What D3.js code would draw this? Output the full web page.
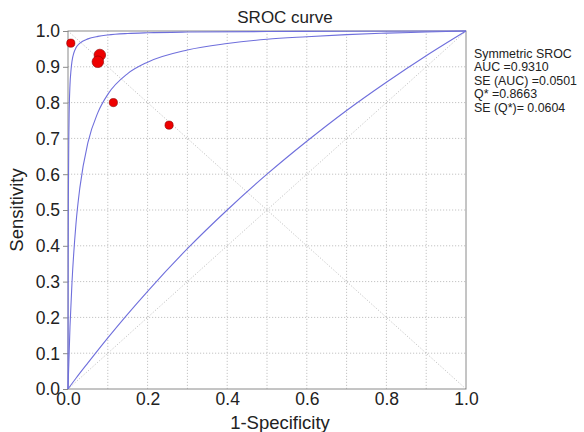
<!DOCTYPE html>
<html>
<head>
<meta charset="utf-8">
<script src="https://cdn.jsdelivr.net/npm/d3@7"></script>
<style>
  body { margin: 0; background: #fff; }
  text { font-family: "Liberation Sans", Arial, sans-serif; fill: #222; }
</style>
</head>
<body>
<div id="chart"></div>
<script>
// studies: 1-specificity, sensitivity, size (weight)
var studyFpr = [0.007, 0.080, 0.075, 0.114, 0.254];
var studyTpr = [0.966, 0.933, 0.914, 0.800, 0.737];
var studySize = [1, 2, 2, 1, 1];

// SROC curve (middle)
var midX = [0, 0.005, 0.01, 0.02, 0.03, 0.05, 0.075, 0.1, 0.15, 0.2, 0.3, 0.4, 0.5, 0.6, 0.7, 0.8, 0.9, 1.0];
var midY = [0, 0.174, 0.297, 0.461, 0.564, 0.688, 0.772, 0.823, 0.881, 0.913, 0.947, 0.965, 0.977, 0.984, 0.990, 0.994, 0.997, 1.0];

// upper curve
var upX = [0, 0.0005, 0.001, 0.002, 0.003, 0.005, 0.0075, 0.01, 0.015, 0.02, 0.03, 0.05, 0.075, 0.1, 0.15, 0.2, 0.3, 0.5, 0.7, 1.0];
var upY = [0, 0.368, 0.538, 0.700, 0.778, 0.850, 0.890, 0.915, 0.940, 0.953, 0.966, 0.978, 0.985, 0.989, 0.993, 0.995, 0.997, 0.9985, 0.9993, 1.0];

// lower curve
var lowX = [0, 0.02, 0.05, 0.1, 0.2, 0.3, 0.4, 0.5, 0.6, 0.7, 0.8, 0.9, 1.0];
var lowY = [0, 0.030, 0.073, 0.143, 0.273, 0.392, 0.500, 0.600, 0.692, 0.778, 0.857, 0.931, 1.0];

var ticks = [0, 0.1, 0.2, 0.3, 0.4, 0.5, 0.6, 0.7, 0.8, 0.9, 1.0];
var xTicks = [0, 0.2, 0.4, 0.6, 0.8, 1.0];

var legendLines = ["Symmetric SROC", "AUC =0.9310", "SE (AUC) =0.0501", "Q* =0.8663", "SE (Q*)= 0.0604"];

var W = 584, H = 432;
var margin = {left: 68, right: 118, top: 31, bottom: 43};

var svg = d3.select("#chart").append("svg")
    .attr("width", W)
    .attr("height", H);

var x = d3.scaleLinear().domain([0, 1]).range([margin.left, W - margin.right]);
var y = d3.scaleLinear().domain([0, 1]).range([H - margin.bottom, margin.top]);

// grid
var grid = svg.append("g").attr("stroke", "#c4c4c4").attr("stroke-dasharray", "1.2,1.8").attr("stroke-width", 1);
grid.selectAll(".gx").data(ticks.slice(1, -1)).enter().append("line")
    .attr("x1", function(d){ return x(d); }).attr("x2", function(d){ return x(d); })
    .attr("y1", y(0)).attr("y2", y(1));
grid.selectAll(".gy").data(ticks.slice(1, -1)).enter().append("line")
    .attr("y1", function(d){ return y(d); }).attr("y2", function(d){ return y(d); })
    .attr("x1", x(0)).attr("x2", x(1));

// diagonals
grid.append("line").attr("x1", x(0)).attr("y1", y(0)).attr("x2", x(1)).attr("y2", y(1));
grid.append("line").attr("x1", x(0)).attr("y1", y(1)).attr("x2", x(1)).attr("y2", y(0));

// frame
svg.append("rect")
    .attr("x", x(0)).attr("y", y(1))
    .attr("width", x(1) - x(0)).attr("height", y(0) - y(1))
    .attr("fill", "none").attr("stroke", "#8a8a8a");

// axes
var yAxis = d3.axisLeft(y).tickValues(ticks).tickSize(5).tickFormat(d3.format(".1f"));
var gy = svg.append("g").attr("transform", "translate(" + x(0) + ",0)").call(yAxis);
gy.select(".domain").remove();
gy.selectAll("line").attr("stroke", "#8a8a8a");
gy.selectAll("text").style("font-size", "17.5px").attr("x", -8).attr("dy", "0.34em");

var xAxis = d3.axisBottom(x).tickValues(xTicks).tickSize(0).tickFormat(d3.format(".1f"));
var gx = svg.append("g").attr("transform", "translate(0," + y(0) + ")").call(xAxis);
gx.select(".domain").remove();
gx.selectAll("text").style("font-size", "17.5px").attr("y", 4).attr("dy", "0.71em");

// curves
var line = d3.line()
    .x(function(d){ return x(d[0]); })
    .y(function(d){ return y(d[1]); })
    .curve(d3.curveMonotoneX);

var curves = [d3.zip(lowX, lowY), d3.zip(midX, midY), d3.zip(upX, upY)];
svg.selectAll(".curve").data(curves).enter().append("path")
    .attr("class", "curve")
    .attr("d", line)
    .attr("fill", "none")
    .attr("stroke", "#6f6fdc")
    .attr("stroke-width", 1.1);

// study points
var r = d3.scaleSqrt().domain([0, 2]).range([0, 5.8]);
svg.selectAll(".pt").data(d3.range(studyFpr.length)).enter().append("circle")
    .attr("cx", function(i){ return x(studyFpr[i]); })
    .attr("cy", function(i){ return y(studyTpr[i]); })
    .attr("r", function(i){ return r(studySize[i]); })
    .attr("fill", "#ee0000")
    .attr("stroke", "#8a0000")
    .attr("stroke-width", 0.6);

// title and labels
svg.append("text").attr("x", x(0.5) + 18).attr("y", 23)
    .attr("text-anchor", "middle").style("font-size", "17px").text("SROC curve");

svg.append("text").attr("x", 280).attr("y", 429)
    .attr("text-anchor", "middle").style("font-size", "18.5px").text("1-Specificity");

svg.append("text").attr("transform", "translate(23," + y(0.5) + ") rotate(-90)")
    .attr("text-anchor", "middle").style("font-size", "18.5px").text("Sensitivity");

// legend text
svg.append("g").selectAll("text").data(legendLines).enter().append("text")
    .attr("x", 474)
    .attr("y", function(d, i){ return 58 + i * 13.4; })
    .style("font-size", "12.4px")
    .text(function(d){ return d; });
</script>
</body>
</html>
